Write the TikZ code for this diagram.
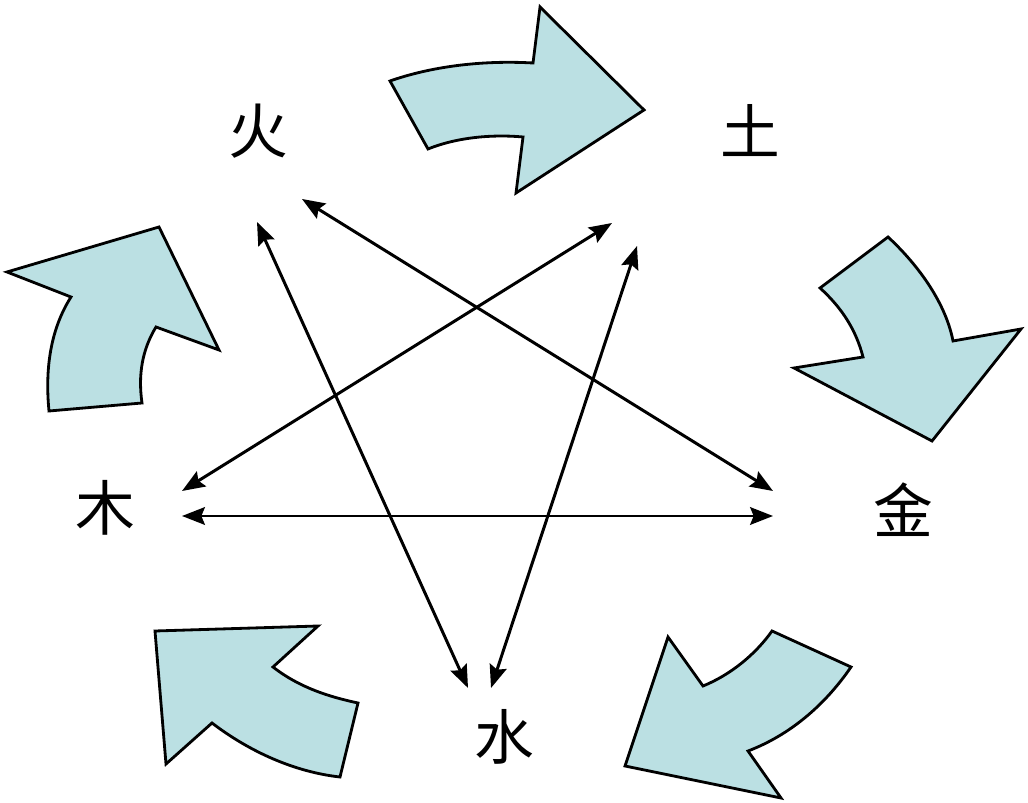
\documentclass[tikz,border=0pt]{standalone}
\usepackage{xcolor}
\usepackage{fontspec}
\newfontfamily\cjk{Noto Sans CJK SC}
\usetikzlibrary{arrows.meta, positioning, calc}

\definecolor{blockfill}{RGB}{187,224,227}

\begin{document}
\begin{tikzpicture}[x=0.1mm, y=-0.1mm, >={Stealth[length=6.5pt, width=5pt, inset=1pt]},
  every node/.style={font=\cjk\fontsize{17}{17}\selectfont},
  link/.style={<->, line width=0.85pt},
  blockarrow/.style={fill=blockfill, draw=black, line width=0.8pt, line join=miter}]

\useasboundingbox (0,0) rectangle (1028,803);

% Elements
\node (huo) at (258,131) {火};
\node (tu) at (750,131) {土};
\node (mu) at (105,508) {木};
\node (jin) at (903,510) {金};
\node (shui) at (504,737) {水};

% Arrow ends round the elements
\coordinate (huo-a) at ([shift={(44,68)}]huo.center);
\coordinate (huo-b) at ([shift={(-1,91)}]huo.center);
\coordinate (tu-a) at ([shift={(-138,92)}]tu.center);
\coordinate (tu-b) at ([shift={(-113,115)}]tu.center);
\coordinate (mu-a) at ([shift={(77,-17)}]mu.center);
\coordinate (mu-b) at ([shift={(77,8)}]mu.center);
\coordinate (jin-a) at ([shift={(-130,-19)}]jin.center);
\coordinate (jin-b) at ([shift={(-130,6)}]jin.center);
\coordinate (shui-a) at ([shift={(-36,-49)}]shui.center);
\coordinate (shui-b) at ([shift={(-13,-49)}]shui.center);

% Connections: the star
\draw[link] (huo-a) -- (jin-a);
\draw[link] (tu-a) -- (mu-a);
\draw[link] (huo-b) -- (shui-a);
\draw[link] (tu-b) -- (shui-b);
\draw[link] (mu-b) -- (jin-b);

% Block arrows: the cycle
\draw[blockarrow] (390,81) .. controls (430,67) and (480,60) .. (533,63)
  -- (540,7) -- (644,110) -- (516,193) -- (523,137)
  .. controls (490,134) and (455,138) .. (428,149) -- cycle;
\draw[blockarrow] (888,237) .. controls (915,262) and (945,300) .. (953,341)
  -- (1021,329) -- (932,441) -- (794,368) -- (863,357)
  .. controls (856,330) and (842,308) .. (820,288) -- cycle;
\draw[blockarrow] (851,667) .. controls (825,705) and (790,735) .. (748,751)
  -- (781,798) -- (625,766) -- (668,637) -- (703,686)
  .. controls (730,675) and (755,655) .. (772,631) -- cycle;
\draw[blockarrow] (358,703) .. controls (330,697) and (300,688) .. (273,667)
  -- (318,626) -- (155,631) -- (166,764) -- (212,723)
  .. controls (250,752) and (295,772) .. (340,777) -- cycle;
\draw[blockarrow] (49,411) .. controls (45,370) and (50,330) .. (71,297)
  -- (7,272) -- (159,227) -- (219,350) -- (156,327)
  .. controls (142,350) and (138,375) .. (142,403) -- cycle;

\end{tikzpicture}
\end{document}
